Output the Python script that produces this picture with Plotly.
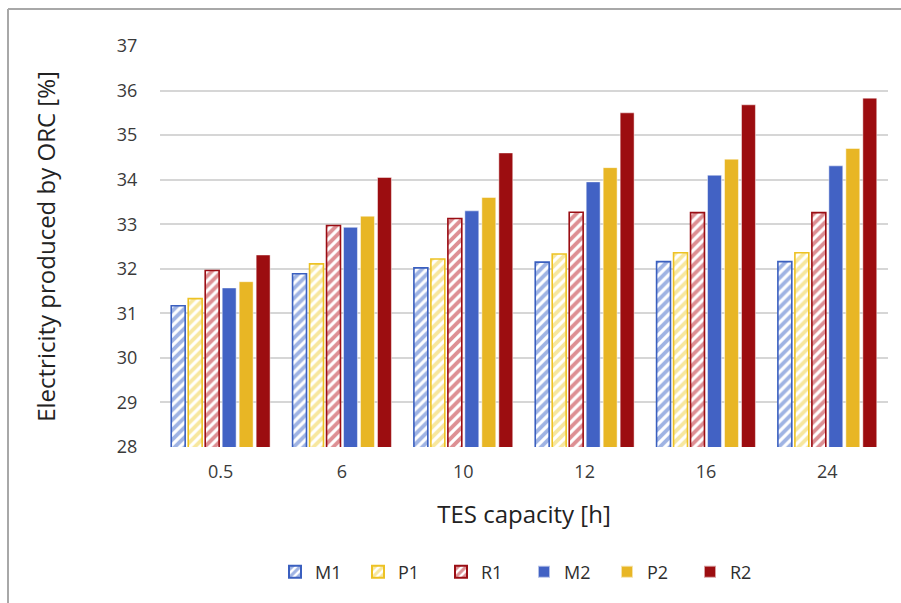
import plotly.graph_objects as go

# TES storage capacity (hours) and ORC electricity share (%) per configuration
capacities = ["0.5", "6", "10", "12", "16", "24"]
m1 = [31.17, 31.89, 32.02, 32.15, 32.16, 32.16]
p1 = [31.33, 32.11, 32.22, 32.33, 32.36, 32.36]
r1 = [31.96, 32.97, 33.13, 33.27, 33.26, 33.26]
m2 = [31.57, 32.93, 33.30, 33.95, 34.10, 34.31]
p2 = [31.71, 33.18, 33.60, 34.27, 34.46, 34.70]
r2 = [32.31, 34.05, 34.60, 35.50, 35.68, 35.83]

y_ticks = [28, 29, 30, 31, 32, 33, 34, 35, 36, 37]

FONT = "Open Sans"
W, H = 901, 603
ML, MR, MT, MB = 160, 13, 46, 156

fig = go.Figure()

hatched = [
    ("M1", m1, "#3f68c8", "#3a5fbf"),
    ("P1", p1, "#f0d040", "#edc224"),
    ("R1", r1, "#bb1f27", "#9a0e14"),
]
solid = [
    ("M2", m2, "#4262c4"),
    ("P2", p2, "#e8b625"),
    ("R2", r2, "#9c0d10"),
]

for name, vals, stripe, edge in hatched:
    fig.add_trace(go.Bar(
        x=capacities, y=vals, name=name,
        marker=dict(
            color="white",
            line=dict(color=edge, width=1.6),
            pattern=dict(shape="/", fgcolor=stripe, bgcolor="white",
                         size=7, solidity=0.55, fillmode="overlay"),
        ),
    ))

for name, vals, col in solid:
    fig.add_trace(go.Bar(
        x=capacities, y=vals, name=name,
        marker=dict(color=col, line=dict(color="rgba(255,255,255,0.6)", width=0.8)),
    ))

pw = W - ML - MR
ph = H - MT - MB

def px_x(v):
    return (v - ML) / pw

def px_y(v):
    return (H - MB - v) / ph

# thin frame along the top and left edges of the figure
fig.add_shape(type="line", xref="paper", yref="paper",
              x0=px_x(8), x1=px_x(W + 5), y0=px_y(9), y1=px_y(9),
              line=dict(color="#a8a8a8", width=2))
fig.add_shape(type="line", xref="paper", yref="paper",
              x0=px_x(8), x1=px_x(8), y0=px_y(9), y1=px_y(H + 5),
              line=dict(color="#a8a8a8", width=2))

fig.update_layout(
    width=W, height=H,
    margin=dict(l=ML, r=MR, t=MT, b=MB, autoexpand=False),
    paper_bgcolor="white", plot_bgcolor="white",
    barmode="group", bargap=0.16, bargroupgap=0.18,
    font=dict(family=FONT, color="#3a3a3a"),
    showlegend=True,
    legend=dict(
        orientation="h", x=0.5, xanchor="center",
        yref="container", y=1 - 572 / H, yanchor="middle",
        font=dict(size=18, color="#2e2e2e", family=FONT),
        entrywidth=38, entrywidthmode="pixels",
        itemsizing="constant", traceorder="normal",
    ),
)

fig.update_xaxes(
    type="category",
    showline=False, showgrid=False, zeroline=False,
    ticks="outside", ticklen=8, tickcolor="rgba(0,0,0,0)",
    tickfont=dict(size=18, color="#3a3a3a", family=FONT),
    title=dict(text="TES capacity [h]", font=dict(size=24, color="#222222", family=FONT),
               standoff=24),
)

fig.update_yaxes(
    range=[28, 37], tickvals=y_ticks,
    showgrid=True, gridcolor="#d6d6d6", gridwidth=1.5,
    zeroline=False, showline=False,
    ticks="outside", ticklen=18, tickcolor="rgba(0,0,0,0)",
    tickfont=dict(size=18, color="#3a3a3a", family=FONT),
    title=dict(text="Electricity produced by ORC [%]",
               font=dict(size=24, color="#222222", family=FONT), standoff=54),
)

fig.write_html("out.html")
